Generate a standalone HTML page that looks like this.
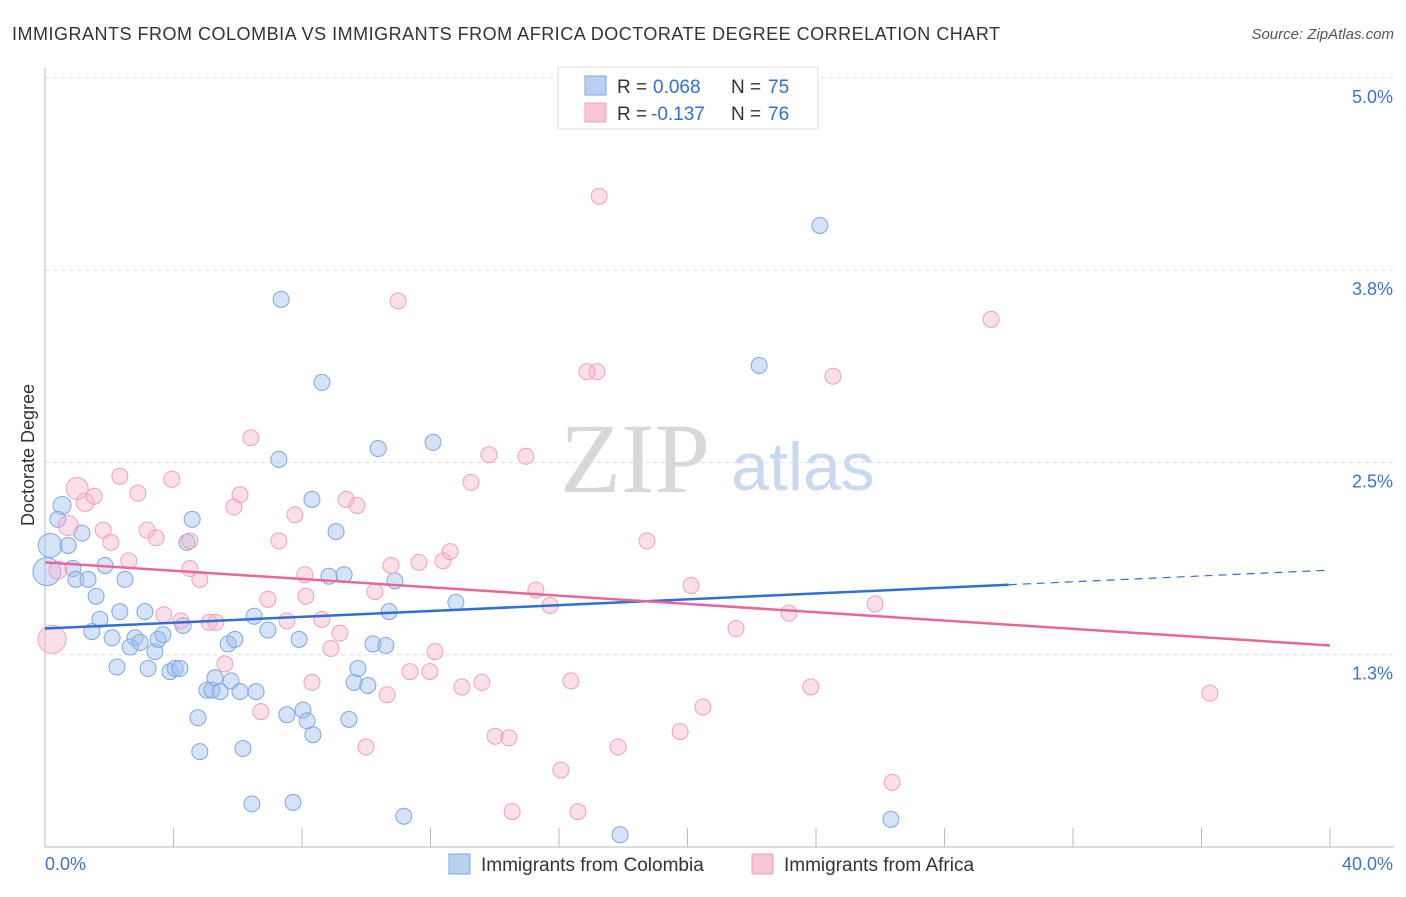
<!DOCTYPE html>
<html><head><meta charset="utf-8"><style>
body{margin:0;background:#fff;font-family:"Liberation Sans",sans-serif;}
#wrap{position:relative;width:1406px;height:892px;}
svg text{font-family:"Liberation Sans",sans-serif;}
</style></head><body>
<div id="wrap">
<svg id="svg" width="1406" height="892" xmlns="http://www.w3.org/2000/svg">
<text x="12" y="40" font-size="18" fill="#333" textLength="988" lengthAdjust="spacing">IMMIGRANTS FROM COLOMBIA VS IMMIGRANTS FROM AFRICA DOCTORATE DEGREE CORRELATION CHART</text>
<text x="1394" y="39" font-size="15" fill="#555" text-anchor="end" font-style="italic">Source: ZipAtlas.com</text>
<text x="34" y="455" font-size="18" fill="#333" text-anchor="middle" transform="rotate(-90 34 455)">Doctorate Degree</text>
<text x="635" y="492" font-size="100" fill="#d8d8d8" style="font-family:'Liberation Serif',serif" text-anchor="middle">ZIP</text>
<text x="803" y="490" font-size="68" fill="#c9daf0" text-anchor="middle">atlas</text>
<g id="grid"></g><g id="axes"></g><g id="pts"></g><g id="lines"></g>
<g>
<rect x="558" y="67" width="260" height="62" fill="#fff" stroke="#ddd"/>
<rect x="585" y="76" width="21" height="19" fill="#b8d0f4" stroke="#7fa7e0"/>
<rect x="585" y="103" width="21" height="19" fill="#f9c6d6" stroke="#f0a0bc"/>
<text x="617" y="93" font-size="19" fill="#333">R = </text><text x="653" y="93" font-size="19" fill="#2f6fd6">0.068</text>
<text x="731" y="93" font-size="19" fill="#333">N = </text><text x="768" y="93" font-size="19" fill="#2f6fd6">75</text>
<text x="617" y="120" font-size="19" fill="#333">R = </text><text x="651" y="120" font-size="19" fill="#2f6fd6">-0.137</text>
<text x="731" y="120" font-size="19" fill="#333">N = </text><text x="768" y="120" font-size="19" fill="#2f6fd6">76</text>
</g>
<g>
<rect x="449" y="854" width="21" height="20" fill="#b8d0f4" stroke="#7fa7e0"/>
<text x="481" y="871" font-size="19" fill="#333">Immigrants from Colombia</text>
<rect x="752" y="854" width="21" height="20" fill="#f9c6d6" stroke="#f0a0bc"/>
<text x="784" y="871" font-size="19" fill="#333">Immigrants from Africa</text>
</g>
</svg></div>
<script>
const yTicks=[1.25,2.5,3.75,5.0];
const yTickLabels=["1.3%","2.5%","3.8%","5.0%"];
const xTicks=[0,4,8,12,16,20,24,28,32,36,40];
const xEndLabels=["0.0%","40.0%"];
const colX=[0.06,0.16,0.53,0.40,0.72,1.15,0.87,0.96,1.34,1.59,1.87,2.49,1.46,1.71,2.09,2.33,2.80,2.65,2.96,3.11,3.42,3.52,3.67,3.21,2.24,3.89,4.05,4.20,4.30,4.58,4.42,4.76,4.82,5.04,5.20,5.29,5.45,5.79,6.07,5.70,5.91,6.57,6.16,6.44,6.51,6.94,7.28,7.35,7.53,7.72,7.91,8.03,8.16,8.34,8.31,8.62,9.06,8.84,9.31,9.46,9.62,9.74,10.05,10.21,10.61,10.37,10.71,10.89,11.17,12.08,12.79,17.90,22.23,24.12,26.33];
const colY=[1.79,1.96,2.22,2.13,1.96,2.04,1.81,1.74,1.74,1.63,1.83,1.74,1.40,1.48,1.36,1.53,1.36,1.30,1.33,1.53,1.27,1.35,1.38,1.16,1.17,1.14,1.16,1.16,1.44,2.13,1.98,0.84,0.62,1.02,1.02,1.10,1.01,1.08,1.01,1.32,1.35,1.01,0.64,0.28,1.50,1.41,2.52,3.56,0.86,0.29,1.35,0.89,0.82,0.73,2.26,3.02,2.05,1.76,1.77,0.83,1.07,1.16,1.05,1.32,1.31,2.59,1.53,1.73,0.20,2.63,1.59,0.08,3.13,4.04,0.18];
const colR=[14,12,9,8,8,8,8,8,8,8,8,8,8,8,8,8,8,8,8,8,8,8,8,8,8,8,8,8,8,8,8,8,8,8,8,8,8,8,8,8,8,8,8,8,8,8,8,8,8,8,8,8,8,8,8,8,8,8,8,8,8,8,8,8,8,8,8,8,8,8,8,8,8,8,8];
const afrX=[0.22,0.40,0.72,1.00,1.25,1.53,1.81,2.05,2.33,2.61,2.89,3.18,3.46,3.95,4.51,4.51,4.82,3.70,4.23,5.11,5.32,5.60,5.88,6.07,6.41,6.72,6.94,7.28,7.53,7.78,8.12,8.09,8.31,8.62,8.90,9.18,9.37,9.71,9.99,10.27,10.65,10.77,10.99,11.36,11.64,11.98,12.14,12.39,12.61,12.98,13.26,13.60,13.82,14.01,14.44,14.54,14.97,15.28,15.72,16.06,16.37,16.59,16.87,17.18,17.25,17.84,18.74,19.77,20.11,20.48,21.51,23.16,23.84,24.53,25.84,26.37,29.45,36.26];
const afrY=[1.35,1.80,2.09,2.33,2.24,2.28,2.06,1.98,2.41,1.86,2.30,2.06,2.01,2.39,1.81,1.99,1.74,1.51,1.47,1.46,1.46,1.19,2.21,2.29,2.66,0.88,1.61,1.99,1.47,2.16,1.63,1.77,1.07,1.48,1.29,1.39,2.26,2.22,0.65,1.66,0.99,1.83,3.55,1.14,1.85,1.14,1.27,1.86,1.92,1.04,2.37,1.07,2.55,0.72,0.71,0.23,2.54,1.67,1.57,0.50,1.08,0.23,3.09,3.09,4.23,0.65,1.99,0.75,1.70,0.91,1.42,1.52,1.04,3.06,1.58,0.42,3.43,1.00];
const afrR=[14,9,10,11,9,8,8,8,8,8,8,8,8,8,8,8,8,8,8,8,8,8,8,8,8,8,8,8,8,8,8,8,8,8,8,8,8,8,8,8,8,8,8,8,8,8,8,8,8,8,8,8,8,8,8,8,8,8,8,8,8,8,8,8,8,8,8,8,8,8,8,8,8,8,8,8,8,8];
const colTrend=[1.42,1.80];
const afrTrend=[1.85,1.31];
const colSolidEnd=30.0;

const NS="http://www.w3.org/2000/svg";
const X=v=>45+v*1285/40;
const Y=v=>847-v*153.84;
function mk(t,a,p){const e=document.createElementNS(NS,t);for(const k in a)e.setAttribute(k,a[k]);p.appendChild(e);return e;}
const grid=document.getElementById('grid'),axes=document.getElementById('axes'),pts=document.getElementById('pts'),lines=document.getElementById('lines');
yTicks.forEach((t,i)=>{
 const l=mk('line',{x1:45,x2:1394,y1:Y(t),y2:Y(t),stroke:'#ddd','stroke-dasharray':'4,4'},grid);
 
 
 const tx=mk('text',{x:1393,y:Y(t)+25,'font-size':18,fill:'#3b72d4','text-anchor':'end'},axes);
 tx.textContent=yTickLabels[i];
 
 
});
const ya=mk('line',{x1:45,x2:45,y1:68,y2:847,stroke:'#bbb'},axes);


const xa=mk('line',{x1:45,x2:1394,y1:847,y2:847,stroke:'#bbb'},axes);


xTicks.forEach(t=>{
 const l=mk('line',{x1:X(t),x2:X(t),y1:828,y2:847,stroke:'#bbb'},axes);
 
 
});
const xl0=mk('text',{x:45,y:870,'font-size':18,fill:'#3b72d4'},axes);xl0.textContent=xEndLabels[0];


const xl1=mk('text',{x:1393,y:870,'font-size':18,fill:'#3b72d4','text-anchor':'end'},axes);xl1.textContent=xEndLabels[1];


colX.forEach((v,i)=>{
 const c=mk('circle',{cx:X(v),cy:Y(colY[i]),r:colR[i],fill:'rgba(160,192,240,0.45)',stroke:'#7fa7e0','stroke-width':1},pts);
 
 
});
afrX.forEach((v,i)=>{
 const c=mk('circle',{cx:X(v),cy:Y(afrY[i]),r:afrR[i],fill:'rgba(247,175,200,0.4)',stroke:'#f0a0bc','stroke-width':1},pts);
 
 
});
const cy=x=>colTrend[0]+(colTrend[1]-colTrend[0])*x/40;
const l1=mk('line',{x1:X(0),y1:Y(cy(0)),x2:X(colSolidEnd),y2:Y(cy(colSolidEnd)),stroke:'#2f6fd6','stroke-width':2.5},lines);


const l2=mk('line',{x1:X(colSolidEnd),y1:Y(cy(colSolidEnd)),x2:X(40),y2:Y(cy(40)),stroke:'#2f6fd6','stroke-width':1.2,'stroke-dasharray':'8,6'},lines);


const l3=mk('line',{x1:X(0),y1:Y(afrTrend[0]),x2:X(40),y2:Y(afrTrend[1]),stroke:'#e8679a','stroke-width':2.5},lines);


</script>
</body></html>
